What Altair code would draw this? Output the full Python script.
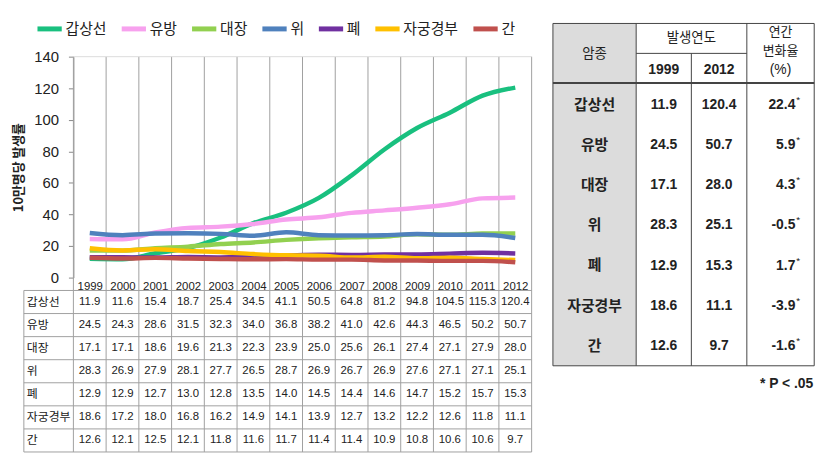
import altair as alt
import pandas as pd

# ---------------- data ----------------
years = [str(y) for y in range(1999, 2013)]
cancers = ["갑상선", "유방", "대장", "위", "폐", "자궁경부", "간"]
thyroid = [11.9, 11.6, 15.4, 18.7, 25.4, 34.5, 41.1, 50.5, 64.8, 81.2, 94.8, 104.5, 115.3, 120.4]
breast = [24.5, 24.3, 28.6, 31.5, 32.3, 34.0, 36.8, 38.2, 41.0, 42.6, 44.3, 46.5, 50.2, 50.7]
colorectal = [17.1, 17.1, 18.6, 19.6, 21.3, 22.3, 23.9, 25.0, 25.6, 26.1, 27.4, 27.1, 27.9, 28.0]
stomach = [28.3, 26.9, 27.9, 28.1, 27.7, 26.5, 28.7, 26.9, 26.7, 26.9, 27.6, 27.1, 27.1, 25.1]
lung = [12.9, 12.9, 12.7, 13.0, 12.8, 13.5, 14.0, 14.5, 14.4, 14.6, 14.7, 15.2, 15.7, 15.3]
cervix = [18.6, 17.2, 18.0, 16.8, 16.2, 14.9, 14.1, 13.9, 12.7, 13.2, 12.2, 12.6, 11.8, 11.1]
liver = [12.6, 12.1, 12.5, 12.1, 11.8, 11.6, 11.7, 11.4, 11.4, 10.9, 10.8, 10.6, 10.6, 9.7]
series = [thyroid, breast, colorectal, stomach, lung, cervix, liver]
apc = ["22.4", "5.9", "4.3", "-0.5", "1.7", "-3.9", "-1.6"]
y_ticks = [0, 20, 40, 60, 80, 100, 120, 140]
colors = ["#19c07f", "#f7a1ee", "#92d050", "#4f81bd", "#7030a0", "#ffc000", "#c0504d"]

rows = []
for c, vals in zip(cancers, series):
    for y, v in zip(years, vals):
        rows.append({"cancer": c, "year": y, "value": v, "label": f"{v:.1f}"})
df = pd.DataFrame(rows)

df_rt = pd.DataFrame({
    "cancer": cancers,
    "v1999": [f"{s[0]:.1f}" for s in series],
    "v2012": [f"{s[-1]:.1f}" for s in series],
    "apc": apc,
    "star": ["*"] * len(cancers),
})

# ---------------- layout (plot-area pixel coordinates) ----------------
W, H = 462.5, 223
LT_TOP, LT_BOT, LT_LEFT = 236, 399, -50
RT_X = [484, 568, 623.7, 679.7, 747.7]
RT_TOP, RT_SUB, RT_HDR, RT_BOT = -33.5, -3.3, 26.7, 312

KFONT = "Noto Sans CJK KR"
NFONT = "Liberation Sans"

one = pd.DataFrame({"a": [0]})
x_year = alt.Scale(type="point", domain=years, range=[0, W], padding=0.5)
y_row_lt = alt.Scale(type="point", domain=cancers, range=[LT_TOP, LT_BOT], padding=0.5)
y_row_rt = alt.Scale(type="point", domain=cancers, range=[RT_HDR + 2, RT_BOT], padding=0.5)

# vertical grid lines through plot and table
edges = pd.DataFrame({"k": list(range(len(years) + 1))})
vgrid = alt.Chart(edges).mark_rule(color="#a0a0a0", strokeWidth=1).encode(
    x=alt.X("k:Q", scale=alt.Scale(domain=[0, len(years)], range=[0, W], nice=False, zero=False), axis=None),
    y=alt.value(0), y2=alt.value(LT_BOT),
)
top_line = alt.Chart(one).mark_rule(color="#dddddd").encode(
    x=alt.value(0), x2=alt.value(W), y=alt.value(0))

hedges = pd.DataFrame({"j": list(range(len(cancers) + 1))})
hgrid = alt.Chart(hedges).mark_rule(color="#a0a0a0", strokeWidth=1).encode(
    y=alt.Y("j:Q", scale=alt.Scale(domain=[0, len(cancers)], range=[LT_TOP, LT_BOT], nice=False, zero=False), axis=None),
    x=alt.value(LT_LEFT), x2=alt.value(W),
)
left_border = alt.Chart(one).mark_rule(color="#a0a0a0").encode(
    x=alt.value(LT_LEFT), y=alt.value(LT_TOP), y2=alt.value(LT_BOT))

lines = alt.Chart(df).mark_line(strokeWidth=4.5, interpolate="monotone").encode(
    x=alt.X("year:O", scale=x_year,
            axis=alt.Axis(orient="bottom", domain=False, ticks=False, grid=False, labelAngle=0,
                          labelFontSize=11.5, labelFont=NFONT, labelColor="#222", labelPadding=3, title=None)),
    y=alt.Y("value:Q", scale=alt.Scale(domain=[0, 140], nice=False),
            axis=alt.Axis(values=y_ticks, grid=False, tickSize=5, labelPadding=10, labelFontSize=15,
                          labelFont=NFONT, labelColor="#222", domainColor="#888", tickColor="#888",
                          title="10만명당 발생률", titleFont=KFONT, titleFontSize=13, titleFontWeight="bold",
                          titleColor="#222", titlePadding=8)),
    color=alt.Color("cancer:N", scale=alt.Scale(domain=cancers, range=colors),
                    legend=alt.Legend(orient="none", legendX=-39, legendY=-43, direction="horizontal",
                                      title=None, symbolType="stroke", symbolSize=600, symbolStrokeWidth=5,
                                      labelFontSize=15, labelFont=KFONT, labelColor="#222", labelOffset=1,
                                      columnPadding=4, labelLimit=300)),
)

cell_text = alt.Chart(df).mark_text(fontSize=11.5, font=NFONT, color="#222").encode(
    x=alt.X("year:O", scale=x_year, axis=None),
    y=alt.Y("cancer:N", scale=y_row_lt, axis=None),
    text="label:N",
)
row_text = alt.Chart(df_rt).mark_text(fontSize=12, font=KFONT, color="#222", align="left").encode(
    x=alt.value(LT_LEFT + 3),
    y=alt.Y("cancer:N", scale=y_row_lt, axis=None),
    text="cancer:N",
)

# ---------------- right summary table ----------------
rt_fill = alt.Chart(one).mark_rect(fill="#dcdcdc").encode(
    x=alt.value(RT_X[0]), x2=alt.value(RT_X[1]), y=alt.value(RT_TOP), y2=alt.value(RT_BOT))
rt_frame = alt.Chart(one).mark_rect(fillOpacity=0, stroke="#444", strokeWidth=1).encode(
    x=alt.value(RT_X[0]), x2=alt.value(RT_X[4]), y=alt.value(RT_TOP), y2=alt.value(RT_BOT))
rt_rules_df = pd.DataFrame({
    "x": [RT_X[1], RT_X[2], RT_X[3], RT_X[1], RT_X[0]],
    "x2": [RT_X[1], RT_X[2], RT_X[3], RT_X[3], RT_X[4]],
    "y": [RT_TOP, RT_SUB, RT_TOP, RT_SUB, RT_HDR],
    "y2": [RT_BOT, RT_BOT, RT_BOT, RT_SUB, RT_HDR],
    "w": [1, 1, 1, 1, 2],
})
rt_rules = alt.Chart(rt_rules_df).mark_rule(color="#444").encode(
    x=alt.X("x:Q", scale=None, axis=None), x2="x2:Q",
    y=alt.Y("y:Q", scale=None, axis=None), y2="y2:Q",
    strokeWidth=alt.StrokeWidth("w:Q", scale=None, legend=None),
)
hdr_df = pd.DataFrame({
    "t": ["암종", "발생연도"],
    "x": [(RT_X[0] + RT_X[1]) / 2, RT_X[2]],
    "y": [-3, -18.5],
})
rt_hdr = alt.Chart(hdr_df).mark_text(fontSize=13.5, font=KFONT, color="#222").encode(
    x=alt.X("x:Q", scale=None, axis=None), y=alt.Y("y:Q", scale=None, axis=None), text="t:N")
hdr3_df = pd.DataFrame({
    "t": ["연간", "변화율"],
    "x": [(RT_X[3] + RT_X[4]) / 2, (RT_X[3] + RT_X[4]) / 2],
    "y": [-25, -6],
})
rt_hdr3 = alt.Chart(hdr3_df).mark_text(fontSize=13, font=KFONT, color="#222").encode(
    x=alt.X("x:Q", scale=None, axis=None), y=alt.Y("y:Q", scale=None, axis=None), text="t:N")
hdr2_df = pd.DataFrame({
    "t": ["1999", "2012"],
    "x": [(RT_X[1] + RT_X[2]) / 2, (RT_X[2] + RT_X[3]) / 2],
    "y": [13, 13],
})
rt_hdr2 = alt.Chart(hdr2_df).mark_text(fontSize=14, font=NFONT, fontWeight="bold", color="#222").encode(
    x=alt.X("x:Q", scale=None, axis=None), y=alt.Y("y:Q", scale=None, axis=None), text="t:N")
rt_pct = alt.Chart(one).mark_text(fontSize=14, font=NFONT, color="#222", text="(%)").encode(
    x=alt.value((RT_X[3] + RT_X[4]) / 2), y=alt.value(14))

rt_names = alt.Chart(df_rt).mark_text(fontSize=15, font=KFONT, fontWeight="bold", color="#222").encode(
    x=alt.value((RT_X[0] + RT_X[1]) / 2), y=alt.Y("cancer:N", scale=y_row_rt, axis=None), text="cancer:N")
rt_v1 = alt.Chart(df_rt).mark_text(fontSize=14, font=NFONT, fontWeight="bold", color="#222").encode(
    x=alt.value((RT_X[1] + RT_X[2]) / 2), y=alt.Y("cancer:N", scale=y_row_rt, axis=None), text="v1999:N")
rt_v2 = alt.Chart(df_rt).mark_text(fontSize=14, font=NFONT, fontWeight="bold", color="#222").encode(
    x=alt.value((RT_X[2] + RT_X[3]) / 2), y=alt.Y("cancer:N", scale=y_row_rt, axis=None), text="v2012:N")
rt_apc = alt.Chart(df_rt).mark_text(fontSize=14, font=NFONT, fontWeight="bold", color="#222", align="right").encode(
    x=alt.value(RT_X[4] - 19), y=alt.Y("cancer:N", scale=y_row_rt, axis=None), text="apc:N")
rt_star = alt.Chart(df_rt).mark_text(fontSize=10, font=NFONT, color="#222", align="left", dy=-5).encode(
    x=alt.value(RT_X[4] - 18), y=alt.Y("cancer:N", scale=y_row_rt, axis=None), text="star:N")
foot = alt.Chart(one).mark_text(fontSize=14, font=NFONT, fontWeight="bold", color="#222", align="right",
                                text="* P < .05").encode(x=alt.value(RT_X[4] - 1), y=alt.value(330))

chart = alt.layer(
    vgrid, top_line, hgrid, left_border, lines, cell_text, row_text,
    rt_fill, rt_frame, rt_rules, rt_hdr, rt_hdr3, rt_hdr2, rt_pct, rt_names, rt_v1, rt_v2, rt_apc, rt_star, foot,
).resolve_scale(
    x="independent", y="independent"
).properties(
    width=W, height=H,
    autosize=alt.AutoSizeParams(type="none"),
    padding={"left": 66, "top": 47, "right": 286, "bottom": 184},
    background="white",
).configure_view(stroke=None)

chart.save("out.html", embed_options={"renderer": "svg", "actions": False})
